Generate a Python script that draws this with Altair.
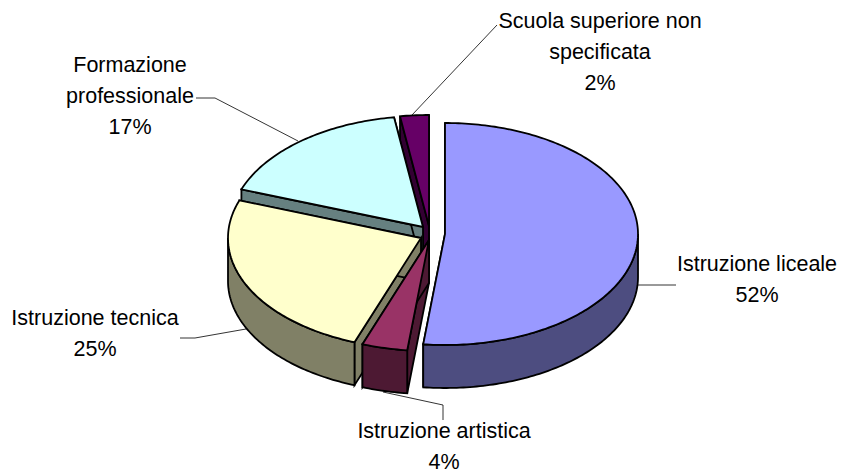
import math
import altair as alt

categories = ["Istruzione liceale", "Istruzione artistica", "Istruzione tecnica",
              "Formazione professionale", "Scuola superiore non specificata"]
shares = [51.8, 3.8, 24.9, 17.1, 2.4]
top_colors = ["#9999FF", "#993366", "#FFFFCC", "#CCFFFF", "#660066"]
side_colors = ["#4D4D80", "#4D1933", "#808066", "#668080", "#330033"]

label_lines = [
    ["Scuola superiore non", "specificata", "2%"],
    ["Formazione", "professionale", "17%"],
    ["Istruzione liceale", "52%"],
    ["Istruzione tecnica", "25%"],
    ["Istruzione artistica", "4%"],
]

# layout (page pixels), kept apart from the values
OFF = 8
RX, RY, DEPTH = 193, 111, 43
apex = [(445, 234), (429, 240), (421, 238), (423, 227), (429, 226)]
label_pos = [(600, 22), (130, 66), (757, 265), (95, 319), (444, 432)]
LINE_GAP = 31
leaders = [
    [(412, 115), (497, 25)],
    [(196, 98), (215, 98), (298, 141)],
    [(638, 285), (676, 285)],
    [(180, 338), (195, 338), (246, 329)],
    [(383, 392), (443, 405), (443, 420)],
]


def P(x, y):
    return [x - OFF, y - OFF]


def rim(c, deg, drop=0):
    t = math.radians(deg)
    return P(c[0] + RX * math.sin(t), c[1] - RY * math.cos(t) + drop)


def feat(pts, fill):
    return {"type": "Feature",
            "geometry": {"type": "Polygon", "coordinates": [pts + [pts[0]]]},
            "properties": {"fill": fill}}


starts = []
acc = 0.0
for s in shares:
    starts.append(acc * 3.6)
    acc += s

features = []
for i in [4, 3, 2, 1, 0]:
    c = apex[i]
    t0 = starts[i]
    t1 = t0 + shares[i] * 3.6
    side = side_colors[i]
    a_top = P(c[0], c[1])
    a_bot = P(c[0], c[1] + DEPTH)
    for t in (t0, t1):
        features.append(feat([a_top, rim(c, t), rim(c, t, DEPTH), a_bot], side))
    lo, hi = max(t0, 90), min(t1, 270)
    if hi > lo:
        n = int(hi - lo) + 1
        angs = [lo + (hi - lo) * k / n for k in range(n + 1)]
        features.append(feat([rim(c, a) for a in angs] +
                             [rim(c, a, DEPTH) for a in reversed(angs)], side))
    n = int(t1 - t0) + 1
    angs = [t0 + (t1 - t0) * k / n for k in range(n + 1)]
    features.append(feat([a_top] + [rim(c, a) for a in angs], top_colors[i]))

line_features = [{"type": "Feature",
                  "geometry": {"type": "LineString", "coordinates": [P(*p) for p in pts]},
                  "properties": {}} for pts in leaders]

proj = alt.Projection(type="identity", scale=1, translate=[0, 0])

pie = alt.Chart(alt.Data(values=features)).mark_geoshape(
    stroke="#000000", strokeWidth=1.8, strokeJoin="miter"
).encode(fill=alt.Fill("properties.fill:N", scale=None, legend=None)).project(**proj.to_dict())

lines = alt.Chart(alt.Data(values=line_features)).mark_geoshape(
    filled=False, stroke="#000000", strokeWidth=0.8
).project(**proj.to_dict())

layers = [lines, pie]
for lines_txt, (x, y) in zip(label_lines, label_pos):
    for k, txt in enumerate(lines_txt):
        layers.append(
            alt.Chart(alt.Data(values=[{"t": txt}])).mark_text(
                font="Liberation Sans", fontSize=21.5, color="#000000",
                align="center", baseline="middle"
            ).encode(text="t:N", x=alt.value(x - OFF), y=alt.value(y - OFF + k * LINE_GAP))
        )

chart = alt.layer(*layers).properties(
    width=830, height=465, padding=0, background="#FFFFFF",
    autosize=alt.AutoSizeParams(type="none")
).configure_view(stroke=None)

chart.save("out.html", embed_options={"renderer": "svg", "actions": False})
